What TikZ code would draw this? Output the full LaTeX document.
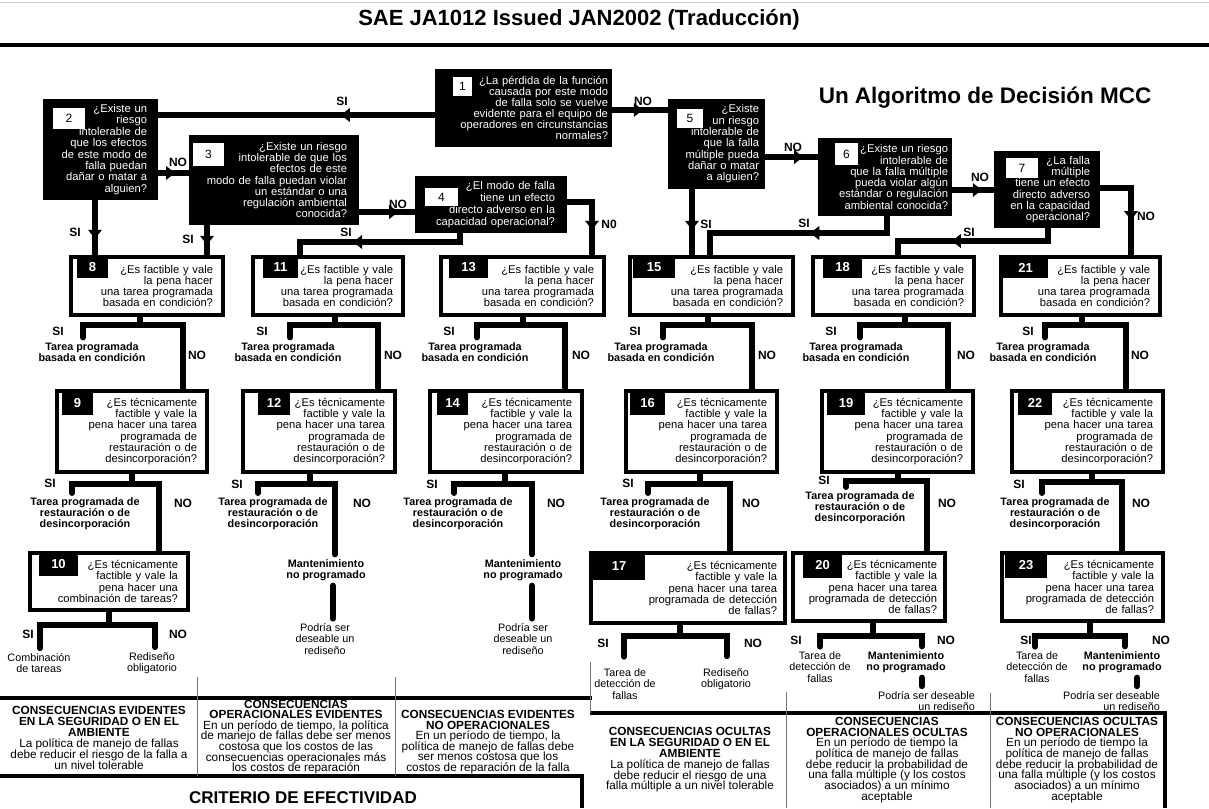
\documentclass[tikz,border=0pt]{standalone}
\usepackage{fontspec}
\setmainfont{Liberation Sans}
\usetikzlibrary{arrows.meta, decorations.markings, backgrounds}
\lineskiplimit=-\maxdimen

\tikzset{
  askbox/.style={fill=black, text=white, anchor=north west, outer sep=0pt,
    inner ysep=0pt, align=right, font=\fontsize{11.2}{11.3}\selectfont},
  asknum/.style={fill=white, anchor=north west, outer sep=0pt, inner sep=0pt,
    font=\fontsize{12}{12}\selectfont},
  taskbox/.style={draw=black, fill=white, line width=3.5pt, anchor=north west,
    outer sep=0pt, inner xsep=10pt, inner ysep=0pt, align=right,
    font=\fontsize{11.2}{11.2}\selectfont},
  tasknum/.style={fill=black, text=white, anchor=north west, outer sep=0pt,
    inner sep=0pt, font=\bfseries\fontsize{13}{13}\selectfont},
  conn/.style={draw=black, line width=6pt, line cap=round},
  midarrow/.style={postaction={decorate, decoration={markings,
    mark=at position #1 with {\arrow{Triangle[length=9pt, width=14pt, line width=0pt]}}}}},
  yesno/.style={font=\bfseries\fontsize{12}{12}\selectfont, inner sep=0pt},
  outcome/.style={font=\bfseries\fontsize{10.8}{10.8}\selectfont, align=center, inner sep=2pt},
  endnote/.style={font=\fontsize{10.8}{11.2}\selectfont, align=center, inner sep=2pt},
  conseq/.style={font=\fontsize{11.8}{10.8}\selectfont, align=center, inner sep=0pt},
  rule/.style={line width=4pt},
  thinrule/.style={line width=1pt, draw=black!55},
}

\begin{document}
\begin{tikzpicture}[x=1pt, y=-1pt]
\useasboundingbox (0,0) rectangle (1209,808);

% === Heading ===
\draw[black!20, line width=1pt] (0,3) -- (1209,3);
\node[font=\bfseries\fontsize{22}{22}\selectfont] (title) at (579,20) {SAE JA1012 Issued JAN2002 (Traducción)};
\draw[line width=4.5pt] (0,45) -- (1209,45);
\node[font=\bfseries\fontsize{22.5}{22.5}\selectfont] (algo) at (985,98) {Un Algoritmo de Decisión MCC};

% === Consequence questions (black boxes) ===
\node[askbox, inner xsep=4pt, text width=169pt, minimum height=78pt, font=\fontsize{11.2}{11}\selectfont] (q1) at (435,69)
  {¿La pérdida de la función\\causada por este modo\\de falla solo se vuelve\\evidente para el equipo de\\operadores en circunstancias\\normales?};
\node[askbox, inner xsep=11pt, text width=93pt, minimum height=101pt, font=\fontsize{11.2}{11.4}\selectfont] (q2) at (43,99)
  {¿Existe un\\riesgo\\intolerable de\\que los efectos\\de este modo de\\falla puedan\\dañar o matar a\\alguien?};
\node[askbox, inner xsep=12pt, text width=146pt, minimum height=90pt] (q3) at (189,135)
  {¿Existe un riesgo\\intolerable de que los\\efectos de este\\modo de falla puedan violar\\un estándar o una\\regulación ambiental\\conocida?};
\node[askbox, inner xsep=12pt, text width=128pt, minimum height=57pt, font=\fontsize{11.2}{12}\selectfont] (q4) at (415,176)
  {¿El modo de falla\\tiene un efecto\\directo adverso en la\\capacidad operacional?};
\node[askbox, inner xsep=6pt, text width=85pt, minimum height=90pt] (q5) at (668,99)
  {¿Existe\\un riesgo\\intolerable de\\que la falla\\múltiple pueda\\dañar o matar\\a alguien?};
\node[askbox, inner xsep=4pt, text width=126pt, minimum height=78pt] (q6) at (818,138)
  {¿Existe un riesgo\\intolerable de\\que la falla múltiple\\pueda violar algún\\estándar o regulación\\ambiental conocida?};
\node[askbox, inner xsep=10pt, text width=86pt, minimum height=77pt] (q7) at (994,151)
  {¿La falla\\múltiple\\tiene un efecto\\directo adverso\\en la capacidad\\operacional?};

\node[asknum, minimum width=19pt, minimum height=19pt] (n1) at ([xshift=18pt, yshift=-8pt]q1.north west) {1};
\node[asknum, minimum width=32pt, minimum height=21pt] (n2) at ([xshift=10pt, yshift=-9pt]q2.north west) {2};
\node[asknum, minimum width=31pt, minimum height=23pt] (n3) at ([xshift=4pt, yshift=-8pt]q3.north west) {3};
\node[asknum, minimum width=33pt, minimum height=18pt] (n4) at ([xshift=10pt, yshift=-12pt]q4.north west) {4};
\node[asknum, minimum width=26pt, minimum height=19pt] (n5) at ([xshift=9pt, yshift=-10pt]q5.north west) {5};
\node[asknum, minimum width=23pt, minimum height=22pt] (n6) at ([xshift=17pt, yshift=-5pt]q6.north west) {6};
\node[asknum, minimum width=32pt, minimum height=20pt] (n7) at ([xshift=12pt, yshift=-7pt]q7.north west) {7};

% === Task questions (white boxes) ===
\node[taskbox, text width=132pt, minimum height=58pt] (q8) at (71,257) {¿Es factible y vale\\la pena hacer\\una tarea programada\\basada en condición?};
\node[taskbox, text width=130pt, minimum height=58pt] (q11) at (253,257) {¿Es factible y vale\\la pena hacer\\una tarea programada\\basada en condición?};
\node[taskbox, text width=143pt, minimum height=58pt] (q13) at (441,257) {¿Es factible y vale\\la pena hacer\\una tarea programada\\basada en condición?};
\node[taskbox, text width=143pt, minimum height=58pt] (q15) at (630,257) {¿Es factible y vale\\la pena hacer\\una tarea programada\\basada en condición?};
\node[taskbox, text width=141pt, minimum height=58pt] (q18) at (813,257) {¿Es factible y vale\\la pena hacer\\una tarea programada\\basada en condición?};
\node[taskbox, text width=139pt, minimum height=58pt] (q21) at (1001,257) {¿Es factible y vale\\la pena hacer\\una tarea programada\\basada en condición?};

\node[taskbox, text width=130pt, minimum height=81pt] (q9) at (57,391) {¿Es técnicamente\\factible y vale la\\pena hacer una tarea\\programada de\\restauración o de\\desincorporación?};
\node[taskbox, text width=132pt, minimum height=81pt] (q12) at (243,391) {¿Es técnicamente\\factible y vale la\\pena hacer una tarea\\programada de\\restauración o de\\desincorporación?};
\node[taskbox, text width=132pt, minimum height=81pt] (q14) at (430,391) {¿Es técnicamente\\factible y vale la\\pena hacer una tarea\\programada de\\restauración o de\\desincorporación?};
\node[taskbox, text width=131pt, minimum height=81pt] (q16) at (626,391) {¿Es técnicamente\\factible y vale la\\pena hacer una tarea\\programada de\\restauración o de\\desincorporación?};
\node[taskbox, text width=131pt, minimum height=81pt] (q19) at (822,391) {¿Es técnicamente\\factible y vale la\\pena hacer una tarea\\programada de\\restauración o de\\desincorporación?};
\node[taskbox, text width=131pt, minimum height=81pt] (q22) at (1012,391) {¿Es técnicamente\\factible y vale la\\pena hacer una tarea\\programada de\\restauración o de\\desincorporación?};

\node[taskbox, text width=138pt, minimum height=57pt] (q10) at (30,553) {¿Es técnicamente\\factible y vale la\\pena hacer una\\combinación de tareas?};
\node[taskbox, inner xsep=8pt, text width=178pt, minimum height=70pt] (q17) at (591,553) {¿Es técnicamente\\factible y vale la\\pena hacer una tarea\\programada de detección\\de fallas?};
\node[taskbox, inner xsep=8pt, text width=136pt, minimum height=68pt] (q20) at (793,553) {¿Es técnicamente\\factible y vale la\\pena hacer una tarea\\programada de detección\\de fallas?};
\node[taskbox, inner xsep=9pt, text width=143pt, minimum height=68pt] (q23) at (1002,553) {¿Es técnicamente\\factible y vale la\\pena hacer una tarea\\programada de detección\\de fallas?};

\node[tasknum, minimum width=31pt, minimum height=21pt] (n8) at ([xshift=6pt]q8.north west) {8};
\node[tasknum, minimum width=35pt, minimum height=21pt] (n11) at ([xshift=10pt]q11.north west) {11};
\node[tasknum, minimum width=39pt, minimum height=21pt] (n13) at ([xshift=8pt]q13.north west) {13};
\node[tasknum, minimum width=42pt, minimum height=21pt] (n15) at ([xshift=3pt]q15.north west) {15};
\node[tasknum, minimum width=39pt, minimum height=21pt] (n18) at ([xshift=10pt]q18.north west) {18};
\node[tasknum, minimum width=45pt, minimum height=21pt] (n21) at ([xshift=2pt]q21.north west) {21};
\node[tasknum, minimum width=31pt, minimum height=24pt] (n9) at ([xshift=5pt]q9.north west) {9};
\node[tasknum, minimum width=32pt, minimum height=24pt] (n12) at ([xshift=15pt]q12.north west) {12};
\node[tasknum, minimum width=31pt, minimum height=24pt] (n14) at ([xshift=7pt]q14.north west) {14};
\node[tasknum, minimum width=35pt, minimum height=24pt] (n16) at ([xshift=4pt]q16.north west) {16};
\node[tasknum, minimum width=38pt, minimum height=24pt] (n19) at ([xshift=5pt]q19.north west) {19};
\node[tasknum, minimum width=34pt, minimum height=24pt] (n22) at ([xshift=6pt]q22.north west) {22};
\node[tasknum, minimum width=39pt, minimum height=23pt] (n10) at ([xshift=9pt]q10.north west) {10};
\node[tasknum, minimum width=52pt, minimum height=27pt] (n17) at ([xshift=2pt]q17.north west) {17};
\node[tasknum, minimum width=39pt, minimum height=25pt] (n20) at ([xshift=10pt]q20.north west) {20};
\node[tasknum, minimum width=42pt, minimum height=25pt] (n23) at ([xshift=3pt]q23.north west) {23};

% === Outcomes ===
\node[outcome] (o8) at (92,352) {Tarea programada\\basada en condición};
\node[outcome] (o11) at (288,352) {Tarea programada\\basada en condición};
\node[outcome] (o13) at (475,352) {Tarea programada\\basada en condición};
\node[outcome] (o15) at (661,352) {Tarea programada\\basada en condición};
\node[outcome] (o18) at (856,352) {Tarea programada\\basada en condición};
\node[outcome] (o21) at (1043,352) {Tarea programada\\basada en condición};

\node[outcome] (o9) at (85,514) {Tarea programada de\\restauración o de\\desincorporación};
\node[outcome] (o12) at (273,514) {Tarea programada de\\restauración o de\\desincorporación};
\node[outcome] (o14) at (458,514) {Tarea programada de\\restauración o de\\desincorporación};
\node[outcome] (o16) at (655,514) {Tarea programada de\\restauración o de\\desincorporación};
\node[outcome] (o19) at (860,508) {Tarea programada de\\restauración o de\\desincorporación};
\node[outcome] (o22) at (1055,514) {Tarea programada de\\restauración o de\\desincorporación};

\node[outcome] (m12) at (326,570) {Mantenimiento\\no programado};
\node[outcome] (m14) at (523,570) {Mantenimiento\\no programado};
\node[endnote] (p12) at (325,639) {Podría ser\\deseable un\\rediseño};
\node[endnote] (p14) at (523,639) {Podría ser\\deseable un\\rediseño};

\node[endnote] (o10a) at (39,663) {Combinación\\de tareas};
\node[endnote] (o10b) at (152,663) {Rediseño\\obligatorio};
\node[endnote] (o17a) at (625,684) {Tarea de\\detección de\\fallas};
\node[endnote] (o17b) at (726,679) {Rediseño\\obligatorio};
\node[endnote] (o20a) at (820,667) {Tarea de\\detección de\\fallas};
\node[outcome] (o20b) at (906,662) {Mantenimiento\\no programado};
\node[endnote, align=right, anchor=east] (p20) at (977,701) {Podría ser deseable\\un rediseño};
\node[endnote] (o23a) at (1037,667) {Tarea de\\detección de\\fallas};
\node[outcome] (o23b) at (1122,662) {Mantenimiento\\no programado};
\node[endnote, align=right, anchor=east] (p23) at (1162,701) {Podría ser deseable\\un rediseño};

% === SI / NO labels ===
\node[yesno] (si1) at (342,101) {SI};
\node[yesno] (no1) at (643,101) {NO};
\node[yesno] (no2) at (178,162) {NO};
\node[yesno] (si2) at (75,232) {SI};
\node[yesno] (si3) at (188,239) {SI};
\node[yesno] (no3) at (398,204) {NO};
\node[yesno] (si4) at (346,232) {SI};
\node[yesno] (no4) at (609,224) {N0};
\node[yesno] (si5) at (706,224) {SI};
\node[yesno] (no5) at (793,147) {NO};
\node[yesno] (si6) at (804,223) {SI};
\node[yesno] (no6) at (980,177) {NO};
\node[yesno] (si7) at (969,232) {SI};
\node[yesno] (no7) at (1146,216) {NO};

\node[yesno] (si8) at (58,331) {SI};
\node[yesno] (no8) at (197,355) {NO};
\node[yesno] (si11) at (262,331) {SI};
\node[yesno] (no11) at (393,355) {NO};
\node[yesno] (si13) at (449,331) {SI};
\node[yesno] (no13) at (581,355) {NO};
\node[yesno] (si15) at (635,331) {SI};
\node[yesno] (no15) at (767,355) {NO};
\node[yesno] (si18) at (831,331) {SI};
\node[yesno] (no18) at (966,355) {NO};
\node[yesno] (si21) at (1028,331) {SI};
\node[yesno] (no21) at (1140,355) {NO};

\node[yesno] (si9) at (50,483) {SI};
\node[yesno] (no9) at (183,503) {NO};
\node[yesno] (si12) at (237,484) {SI};
\node[yesno] (no12) at (362,503) {NO};
\node[yesno] (si14) at (432,484) {SI};
\node[yesno] (no14) at (556,503) {NO};
\node[yesno] (si16) at (628,483) {SI};
\node[yesno] (no16) at (751,503) {NO};
\node[yesno] (si19) at (824,480) {SI};
\node[yesno] (no19) at (947,503) {NO};
\node[yesno] (si22) at (1019,484) {SI};
\node[yesno] (no22) at (1141,503) {NO};

\node[yesno] (si10) at (28,634) {SI};
\node[yesno] (no10) at (178,634) {NO};
\node[yesno] (si17) at (603,643) {SI};
\node[yesno] (no17) at (753,643) {NO};
\node[yesno] (si20) at (796,640) {SI};
\node[yesno] (no20) at (946,640) {NO};
\node[yesno] (si23) at (1026,640) {SI};
\node[yesno] (no23) at (1161,640) {NO};

% === Effectiveness table ===
\draw[rule] (0,698) -- (592,698);
\draw[rule] (590,713) -- (1165,713) -- (1165,808);
\draw[rule] (0,776) -- (582,776) -- (582,808);
\draw[thinrule] (197,677) -- (197,776);
\draw[thinrule] (395,677) -- (395,776);
\draw[thinrule] (590,662) -- (590,713);
\draw[thinrule] (786,692) -- (786,808);
\draw[thinrule] (990,693) -- (990,808);

\node[conseq, font=\fontsize{11.8}{11}\selectfont] (c1) at (99,738) {\textbf{CONSECUENCIAS EVIDENTES}\\\textbf{EN LA SEGURIDAD O EN EL}\\\textbf{AMBIENTE}\\La política de manejo de fallas\\debe reducir el riesgo de la falla a\\un nivel tolerable};
\node[conseq, font=\fontsize{11.8}{10.6}\selectfont] (c2) at (296,737) {\textbf{CONSECUENCIAS}\\\textbf{OPERACIONALES EVIDENTES}\\En un período de tiempo, la política\\de manejo de fallas debe ser menos\\costosa que los costos de las\\consecuencias operacionales más\\los costos de reparación};
\node[conseq, font=\fontsize{11.8}{10.5}\selectfont] (c3) at (488,742) {\textbf{CONSECUENCIAS EVIDENTES}\\\textbf{NO OPERACIONALES}\\En un período de tiempo, la\\política de manejo de fallas debe\\ser menos costosa que los\\costos de reparación de la falla};
\node[conseq] (c4) at (690,760) {\textbf{CONSECUENCIAS OCULTAS}\\\textbf{EN LA SEGURIDAD O EN EL}\\\textbf{AMBIENTE}\\La política de manejo de fallas\\debe reducir el riesgo de una\\falla múltiple a un nivel tolerable};
\node[conseq, font=\fontsize{11.8}{10.7}\selectfont] (c5) at (887,760) {\textbf{CONSECUENCIAS}\\\textbf{OPERACIONALES OCULTAS}\\En un período de tiempo la\\política de manejo de fallas\\debe reducir la probabilidad de\\una falla múltiple (y los costos\\asociados) a un mínimo\\aceptable};
\node[conseq, font=\fontsize{11.8}{10.7}\selectfont] (c6) at (1077,760) {\textbf{CONSECUENCIAS OCULTAS}\\\textbf{NO OPERACIONALES}\\En un período de tiempo la\\política de manejo de fallas\\debe reducir la probabilidad de\\una falla múltiple (y los costos\\asociados) a un mínimo\\aceptable};
\node[font=\bfseries\fontsize{17}{17}\selectfont] (crit) at (303,798) {CRITERIO DE EFECTIVIDAD};

% === Connectors ===
\begin{scope}[on background layer]
  % consequence questions
  \draw[conn, midarrow=0.34] ([yshift=-7pt]q1.west) -- ([yshift=-7pt]q1.west -| q2.east);
  \draw[conn, midarrow=0.55] ([yshift=-2pt]q1.east) -- ([yshift=-2pt]q1.east -| q5.west);
  \draw[conn, midarrow=0.55] ([yshift=-23.5pt]q2.east) -- ([yshift=-23.5pt]q2.east -| q3.west);
  \draw[conn, midarrow=0.68] ([xshift=-5.5pt]q2.south) -- ([xshift=-5.5pt]q2.south |- q8.north);
  \draw[conn, midarrow=0.62] ([xshift=-67pt]q3.south) -- ([xshift=-67pt]q3.south |- q8.north);
  \draw[conn, midarrow=0.7] ([yshift=-32pt]q3.east) -- ([yshift=-32pt]q3.east -| q4.west);
  \draw[conn, midarrow=0.63] ([xshift=-31pt]q4.south) -- ++(0,9) -| ([xshift=-28pt]q11.north);
  \draw[conn, midarrow=0.66] ([yshift=2.5pt]q4.east) -| ([xshift=69.5pt]q13.north);
  \draw[conn, midarrow=0.6] ([xshift=-24.5pt]q5.south) -- ([xshift=-24.5pt]q5.south |- q15.north);
  \draw[conn, midarrow=0.72] ([yshift=-13pt]q5.east) -- ([yshift=-13pt]q5.east -| q6.west);
  \draw[conn, midarrow=0.43] ([xshift=2pt]q6.south) -- ++(0,17) -| ([xshift=-1.5pt]q15.north);
  \draw[conn, midarrow=0.71] ([yshift=-13pt]q6.east) -- ([yshift=-13pt]q6.east -| q7.west);
  \draw[conn, midarrow=0.61] ([xshift=1pt]q7.south) -- ++(0,13) -| ([xshift=4.5pt]q18.north);
  \draw[conn, midarrow=0.63] ([yshift=1.5pt]q7.east) -| ([xshift=50.5pt]q21.north);

  % condition based tasks
  \draw[conn, shorten >=3pt] ([xshift=-7pt]q8.south) -- ++(0,10) coordinate (j8) -| ([xshift=-9pt]o8.north);
  \draw[conn] (j8) -| ([xshift=51pt]q9.north);
  \draw[conn, shorten >=3pt] ([xshift=7pt]q11.south) -- ++(0,10) coordinate (j11) -| ([xshift=2pt]o11.north);
  \draw[conn] (j11) -| ([xshift=59pt]q12.north);
  \draw[conn, shorten >=3pt] (q13.south) -- ++(0,10) coordinate (j13) -| ([xshift=2pt]o13.north);
  \draw[conn] (j13) -| ([xshift=59pt]q14.north);
  \draw[conn, shorten >=3pt] ([xshift=-3.5pt]q15.south) -- ++(0,10) coordinate (j15) -| ([xshift=2pt]o15.north);
  \draw[conn] (j15) -| ([xshift=50.5pt]q16.north);
  \draw[conn, shorten >=3pt] ([xshift=11.5pt]q18.south) -- ++(0,10) coordinate (j18) -| ([xshift=4pt]o18.north);
  \draw[conn] (j18) -| ([xshift=50.5pt]q19.north);
  \draw[conn, shorten >=3pt] ([xshift=1.5pt]q21.south) -- ++(0,10) coordinate (j21) -| ([xshift=2pt]o21.north);
  \draw[conn] (j21) -| ([xshift=38.5pt]q22.north);

  % restoration / discard tasks
  \draw[conn, shorten >=3pt] (q9.south) -- ++(0,12) coordinate (j9) -| ([xshift=-13pt]o9.north);
  \draw[conn] (j9) -| ([xshift=50pt]q10.north);
  \draw[conn, shorten >=3pt] ([xshift=-9pt]q12.south) -- ++(0,12) coordinate (j12) -| ([xshift=-15pt]o12.north);
  \draw[conn, shorten >=3pt] (j12) -| ([xshift=9pt]m12.north);
  \draw[conn, shorten <=3pt, shorten >=3pt] ([xshift=7pt]m12.south) -- ([xshift=7pt]m12.south |- p12.north);
  \draw[conn, shorten >=3pt] ([xshift=-1pt]q14.south) -- ++(0,12) coordinate (j14) -| ([xshift=-4pt]o14.north);
  \draw[conn, shorten >=3pt] (j14) -| ([xshift=9pt]m14.north);
  \draw[conn, shorten <=3pt, shorten >=3pt] ([xshift=9pt]m14.south) -- ([xshift=9pt]m14.south |- p14.north);
  \draw[conn, shorten >=3pt] ([xshift=-1.5pt]q16.south) -- ++(0,12) coordinate (j16) -| ([xshift=-7pt]o16.north);
  \draw[conn] (j16) -| ([xshift=42pt]q17.north);
  \draw[conn, shorten >=3pt] (q19.south) -- ++(0,9) coordinate (j19) -| ([xshift=-14pt]o19.north);
  \draw[conn] (j19) -| ([xshift=58pt]q20.north);
  \draw[conn, shorten >=3pt] ([xshift=4.5pt]q22.south) -- ++(0,10) coordinate (j22) -| ([xshift=-13pt]o22.north);
  \draw[conn] (j22) -| ([xshift=39.5pt]q23.north);

  % combination and failure finding tasks
  \draw[conn, shorten >=3pt] (q10.south) -- ++(0,15) coordinate (j10) -| ([xshift=1pt]o10a.north);
  \draw[conn, shorten >=3pt] (j10) -| ([xshift=3pt]o10b.north);
  \draw[conn] ([xshift=-8pt]q17.south) -- ++(0,13) coordinate (j17) -| ([xshift=-1pt, yshift=10pt]o17a.north);
  \draw[conn] (j17) -| ([xshift=1pt, yshift=10pt]o17b.north);
  \draw[conn, shorten >=3pt] ([xshift=4pt]q20.south) -- ++(0,15) coordinate (j20) -| (o20a.north);
  \draw[conn, shorten >=3pt] (j20) -| ([xshift=16pt]o20b.north);
  \draw[conn, shorten <=3pt, shorten >=3pt] ([xshift=16pt]o20b.south) -- ([xshift=16pt]o20b.south |- p20.north);
  \draw[conn, shorten >=3pt] ([xshift=7.5pt]q23.south) -- ++(0,15) coordinate (j23) -| ([xshift=-2pt]o23a.north);
  \draw[conn, shorten >=3pt] (j23) -| ([xshift=3pt]o23b.north);
  \draw[conn, shorten <=3pt, shorten >=3pt] ([xshift=15pt]o23b.south) -- ([xshift=15pt]o23b.south |- p23.north);
\end{scope}
\end{tikzpicture}
\end{document}
